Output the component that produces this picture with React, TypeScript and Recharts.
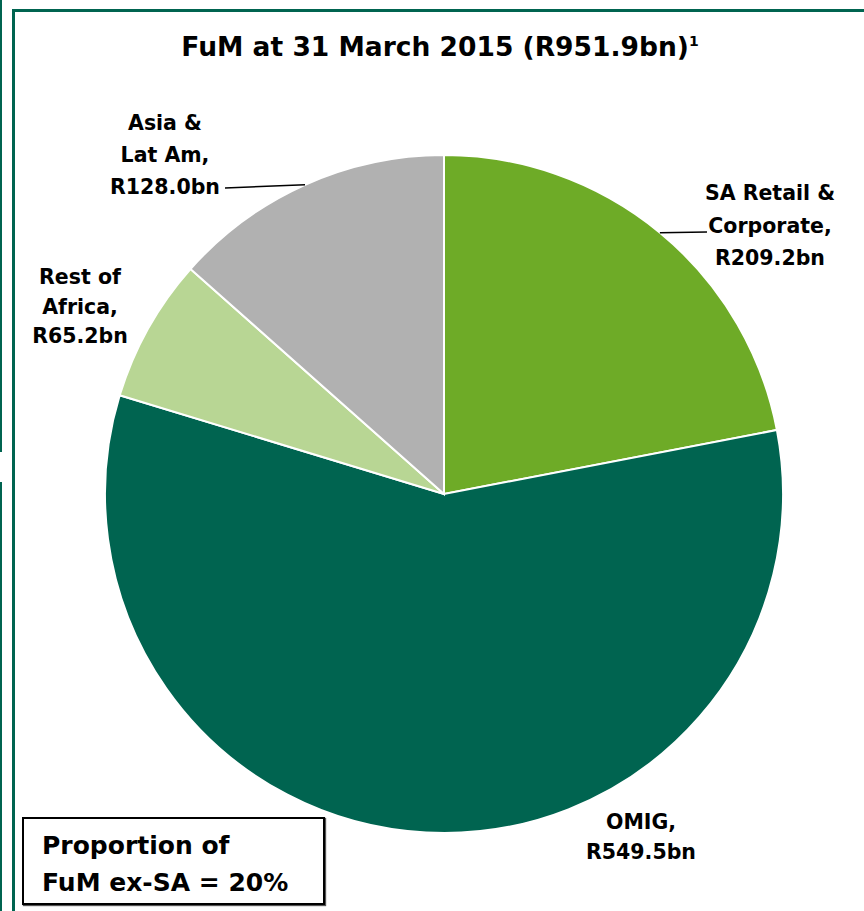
import React from "react";
import { PieChart, Pie, Cell } from "recharts";

const segments = ["SA Retail &\nCorporate,", "OMIG,", "Rest of\nAfrica,", "Asia &\nLat Am,"];
const fumValues = [209.2, 549.5, 65.2, 128.0];
const colors = ["#6eab27", "#006450", "#b8d694", "#b1b1b1"];

const data = segments.map((name, i) => ({ name, value: fumValues[i] }));

// label placement relative to the pie centre
const labelLayout = [
  { x: 326, y: -301, gap: 32.5, line: [263, -262] },
  { x: 197, y: 328, gap: 30, line: null },
  { x: -364, y: -217, gap: 29.5, line: null },
  { x: -279, y: -371, gap: 32, line: [-219, -306] },
];

const FONT = "'DejaVu Sans', sans-serif";
const RAD = Math.PI / 180;

const renderLabel = (props: any) => {
  const { cx, cy, midAngle, outerRadius, index, name, value } = props;
  const lay = labelLayout[index];
  const lines = [...String(name).split("\n"), `R${Number(value).toFixed(1)}bn`];
  let leader = null;
  if (lay.line) {
    const sx = cx + outerRadius * Math.cos(-midAngle * RAD);
    const sy = cy + outerRadius * Math.sin(-midAngle * RAD);
    leader = (
      <line x1={sx} y1={sy} x2={cx + lay.line[0]} y2={cy + lay.line[1]} stroke="#000" strokeWidth={1.5} />
    );
  }
  return (
    <g key={`lbl-${index}`}>
      {leader}
      {lines.map((t, j) => (
        <text
          key={j}
          x={cx + lay.x}
          y={cy + lay.y + j * lay.gap}
          textAnchor="middle"
          dominantBaseline="central"
          fontFamily={FONT}
          fontWeight="bold"
          fontSize={20.5}
          fill="#000"
        >
          {t}
        </text>
      ))}
    </g>
  );
};

export default function App() {
  return (
    <div style={{ position: "absolute", left: 0, top: 0, width: 864, height: 911, background: "#fff", overflow: "hidden" }}>
      {/* neighbouring panel edge */}
      <div style={{ position: "absolute", left: 0, top: 0, width: 2, height: 452, background: "#006450" }} />
      <div style={{ position: "absolute", left: 0, top: 482, width: 2, height: 429, background: "#006450" }} />
      {/* panel frame */}
      <div style={{ position: "absolute", left: 12, top: 9, width: 852, height: 2.5, background: "#006450" }} />
      <div style={{ position: "absolute", left: 12, top: 9, width: 2.5, height: 902, background: "#006450" }} />

      <div style={{ position: "absolute", left: 0, top: 0 }}>
        <PieChart width={864} height={911} margin={{ top: 0, right: 0, bottom: 0, left: 0 }}>
          <Pie
            data={data}
            dataKey="value"
            nameKey="name"
            cx={444}
            cy={494}
            outerRadius={339}
            startAngle={90}
            endAngle={-270}
            stroke="#fff"
            strokeWidth={2}
            label={renderLabel}
            labelLine={false}
            isAnimationActive={false}
          >
            {data.map((d, i) => (
              <Cell key={d.name} fill={colors[i]} />
            ))}
          </Pie>
        </PieChart>
      </div>

      <div
        style={{
          position: "absolute",
          left: 0,
          width: 880,
          top: 31,
          textAlign: "center",
          fontFamily: FONT,
          fontWeight: "bold",
          fontSize: 26.5,
          color: "#000",
        }}
      >
        FuM at 31 March 2015 (R951.9bn)
        <sup style={{ fontSize: 14 }}>1</sup>
      </div>

      <div
        style={{
          position: "absolute",
          left: 22,
          top: 817,
          width: 303,
          height: 88,
          border: "2px solid #000",
          boxShadow: "1px 1px 1px #555",
          background: "#fff",
          fontFamily: FONT,
          fontWeight: "bold",
          fontSize: 25,
          lineHeight: "37px",
          color: "#000",
          paddingLeft: 18,
          paddingTop: 8,
          boxSizing: "border-box",
        }}
      >
        Proportion of
        <br />
        FuM ex-SA = 20%
      </div>
    </div>
  );
}
